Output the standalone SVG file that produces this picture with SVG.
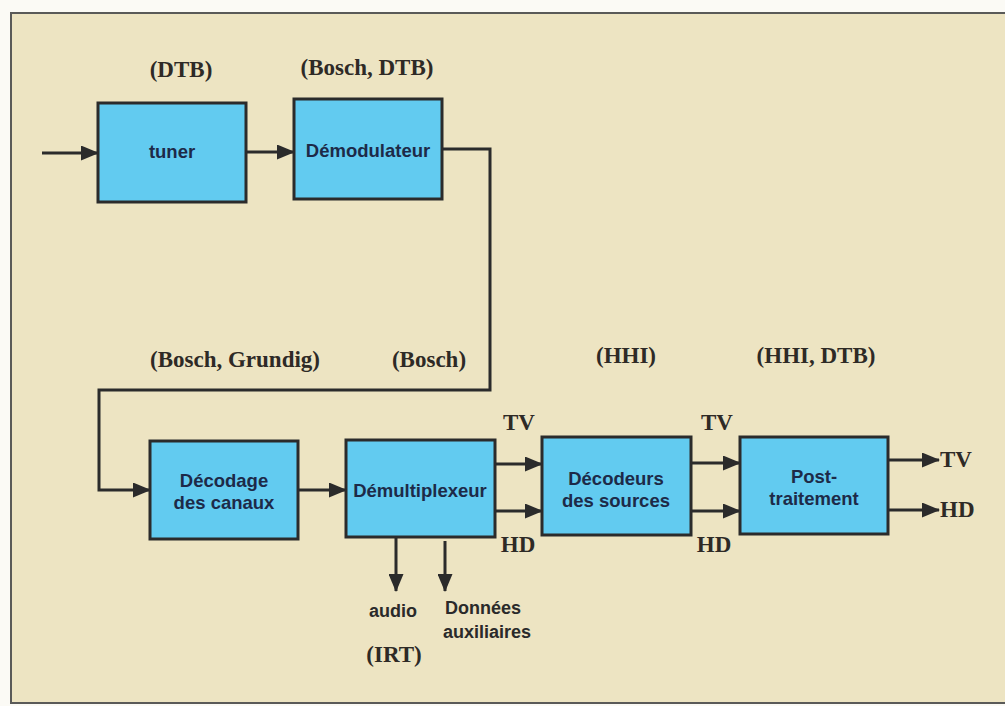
<svg xmlns="http://www.w3.org/2000/svg" width="1005" height="706" viewBox="0 0 1005 706">
<style>
.frame{fill:#ede4c2;stroke:#5a5a58;stroke-width:2}
.box{fill:#62cbf0;stroke:#2b2b2b;stroke-width:3}
.nt{font-family:"Liberation Sans",Arial,sans-serif;font-weight:bold;font-size:18.5px;fill:#1d2a48;text-anchor:middle}
.lb{font-family:"Liberation Serif","Times New Roman",serif;font-weight:bold;font-size:23px;fill:#2e2a26;text-anchor:middle}
.sl{font-family:"Liberation Sans",Arial,sans-serif;font-weight:bold;font-size:18px;fill:#2a2a2a}
.ln{fill:none;stroke:#2b2b2b;stroke-width:3}
</style>
<defs>
<marker id="ah" markerWidth="18" markerHeight="15" refX="17" refY="7.5" orient="auto" markerUnits="userSpaceOnUse">
<path d="M0,0 L18,7.5 L0,15 Z" fill="#2b2b2b"/>
</marker>
</defs>
<rect x="0" y="0" width="1005" height="706" fill="#fbfaf5"/>
<rect class="frame" x="11" y="13" width="1000" height="690"/>

<g id="labels">
<text class="lb" x="181" y="77">(DTB)</text>
<text class="lb" x="367" y="75">(Bosch, DTB)</text>
<text class="lb" x="235" y="367">(Bosch, Grundig)</text>
<text class="lb" x="429" y="367">(Bosch)</text>
<text class="lb" x="626" y="363">(HHI)</text>
<text class="lb" x="816" y="363">(HHI, DTB)</text>
<text class="lb" x="519" y="430">TV</text>
<text class="lb" x="518" y="552">HD</text>
<text class="lb" x="717" y="430">TV</text>
<text class="lb" x="714" y="552">HD</text>
<text class="lb" x="940" y="467" style="text-anchor:start">TV</text>
<text class="lb" x="940" y="517" style="text-anchor:start">HD</text>
<text class="lb" x="394" y="662">(IRT)</text>
<text class="sl" x="393" y="617" text-anchor="middle">audio</text>
<text class="sl" x="445" y="614">Données</text>
<text class="sl" x="443" y="638">auxiliaires</text>
</g>

<g id="connectors">
<line class="ln" x1="42" y1="153" x2="98" y2="153" marker-end="url(#ah)"/>
<line class="ln" x1="246" y1="152" x2="294" y2="152" marker-end="url(#ah)"/>
<polyline class="ln" points="442,149 490,149 490,390 99,390 99,490 150,490" marker-end="url(#ah)"/>
<line class="ln" x1="298" y1="490" x2="346" y2="490" marker-end="url(#ah)"/>
<line class="ln" x1="396" y1="537" x2="396" y2="591" marker-end="url(#ah)"/>
<line class="ln" x1="445" y1="541" x2="445" y2="591" marker-end="url(#ah)"/>
<line class="ln" x1="495" y1="464" x2="542" y2="464" marker-end="url(#ah)"/>
<line class="ln" x1="495" y1="511" x2="542" y2="511" marker-end="url(#ah)"/>
<line class="ln" x1="691" y1="463" x2="740" y2="463" marker-end="url(#ah)"/>
<line class="ln" x1="691" y1="511" x2="740" y2="511" marker-end="url(#ah)"/>
<line class="ln" x1="888" y1="460" x2="939" y2="460" marker-end="url(#ah)"/>
<line class="ln" x1="888" y1="510" x2="939" y2="510" marker-end="url(#ah)"/>
</g>

<g id="tuner">
<rect class="box" x="98" y="103" width="148" height="99"/>
<text class="nt" x="172" y="158">tuner</text>
</g>
<g id="demodulateur">
<rect class="box" x="294" y="99" width="148" height="100"/>
<text class="nt" x="368" y="157">Démodulateur</text>
</g>
<g id="decodage">
<rect class="box" x="150" y="441" width="148" height="98"/>
<text class="nt" x="224" y="487">Décodage</text>
<text class="nt" x="224" y="509">des canaux</text>
</g>
<g id="demultiplexeur">
<rect class="box" x="346" y="440" width="149" height="97"/>
<text class="nt" x="420" y="497">Démultiplexeur</text>
</g>
<g id="decodeurs">
<rect class="box" x="542" y="437" width="149" height="98"/>
<text class="nt" x="616" y="485">Décodeurs</text>
<text class="nt" x="616" y="507">des sources</text>
</g>
<g id="posttraitement">
<rect class="box" x="740" y="437" width="148" height="97"/>
<text class="nt" x="814" y="483">Post-</text>
<text class="nt" x="814" y="505">traitement</text>
</g>
</svg>
